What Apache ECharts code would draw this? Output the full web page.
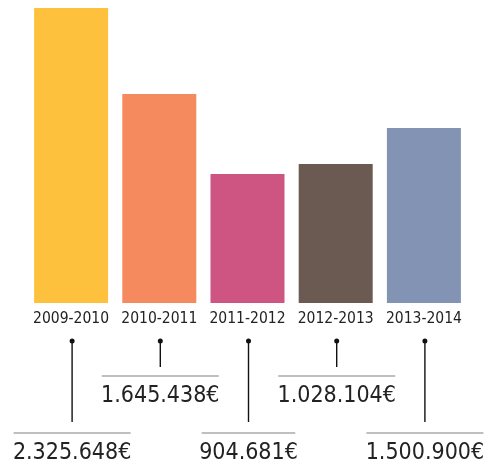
<!DOCTYPE html>
<html>
<head>
<meta charset="utf-8">
<script src="https://cdn.jsdelivr.net/npm/echarts@6/dist/echarts.min.js"></script>
<style>
  html, body { margin: 0; padding: 0; background: #fff; }
  #chart { width: 494px; height: 468px; }
</style>
</head>
<body>
<div id="chart"></div>
<script>
// temporadas
const seasons = ['2009-2010', '2010-2011', '2011-2012', '2012-2013', '2013-2014'];
// importes mostrados en las etiquetas
const amounts = [2325648, 1645438, 904681, 1028104, 1500900];
// altura de las barras tal como se ven (no van a escala con los importes)
const barHeights = [2325648, 1648000, 1017000, 1096000, 1380000];
const barColors = ['#FDC13E', '#F68A5F', '#CE5581', '#6A5A51', '#8293B4'];

const FONT = '"DejaVu Sans Condensed", "DejaVu Sans", sans-serif';

function fmtEuro(v) {
  return String(v).replace(/\B(?=(\d{3})+(?!\d))/g, '.') + '€';
}

let chart = echarts.init(document.getElementById('chart'));

let option = {
  animation: false,
  grid: {
    left: 27,
    right: 26,
    top: 8,
    bottom: 165
  },
  xAxis: {
    type: 'category',
    data: seasons,
    axisLine: { show: false },
    axisTick: { show: false },
    axisLabel: {
      interval: 0,
      margin: 8,
      fontSize: 15.5,
      fontFamily: FONT,
      color: '#222'
    }
  },
  yAxis: {
    type: 'value',
    min: 0,
    max: 'dataMax',
    show: false
  },
  series: [{
      name: 'temporadas',
      type: 'bar',
      barWidth: 74,
      data: barHeights.map(function(v, i) {
        return { value: v, itemStyle: { color: barColors[i] } };
      })
    },
    {
      // lineas guia + importes
      name: 'importes',
      type: 'custom',
      clip: false,
      data: amounts.map(function(v, i) { return [i, 0, v]; }),
      encode: { x: 0, y: 1 },
      renderItem: function(params, api) {
        let p = api.coord([api.value(0), 0]);
        let x = p[0] + 1;
        let y0 = p[1];
        let low = api.value(0) % 2 === 0;
        let lineEnd = low ? y0 + 119 : y0 + 64;
        let ruleY = low ? y0 + 130 : y0 + 73;
        let textY = low ? y0 + 150 : y0 + 93;
        let text = fmtEuro(api.value(2));
        let halfW = text.length * 5.85;
        return {
          type: 'group',
          children: [{
              type: 'line',
              shape: { x1: x, y1: y0 + 38, x2: x, y2: lineEnd },
              style: { stroke: '#111', lineWidth: 1.4 }
            },
            {
              type: 'circle',
              shape: { cx: x, cy: y0 + 38, r: 2.5 },
              style: { fill: '#111' }
            },
            {
              type: 'line',
              shape: { x1: x - halfW, y1: ruleY, x2: x + halfW, y2: ruleY },
              style: { stroke: '#aaa', lineWidth: 1.5 }
            },
            {
              type: 'text',
              style: {
                x: x,
                y: textY,
                text: text,
                fill: '#222',
                font: '23px ' + FONT,
                align: 'center',
                verticalAlign: 'middle'
              }
            }
          ]
        };
      }
    }
  ]
};

if (option && typeof option === 'object') {
  chart.setOption(option);
}
</script>
</body>
</html>
